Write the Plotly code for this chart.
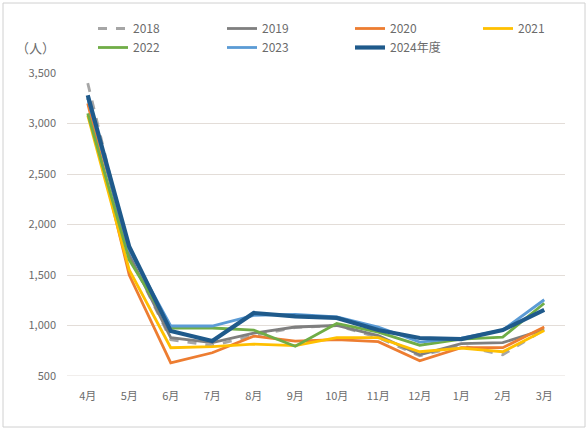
import plotly.graph_objects as go

months = ["4月", "5月", "6月", "7月", "8月", "9月", "10月", "11月", "12月", "1月", "2月", "3月"]

y2018 = [3400, 1700, 860, 800, 900, 980, 1000, 880, 700, 800, 710, 960]
y2019 = [3250, 1700, 880, 830, 925, 985, 1000, 900, 710, 820, 830, 960]
y2020 = [3200, 1500, 630, 730, 895, 845, 860, 840, 650, 780, 780, 985]
y2021 = [3080, 1550, 780, 790, 815, 800, 880, 880, 740, 775, 740, 950]
y2022 = [3100, 1650, 975, 975, 955, 795, 1020, 935, 805, 865, 885, 1220]
y2023 = [3250, 1750, 995, 995, 1100, 1110, 1085, 985, 835, 875, 955, 1255]
y2024 = [3280, 1780, 945, 846, 1124, 1090, 1075, 955, 876, 866, 955, 1155]

y_ticks = [500, 1000, 1500, 2000, 2500, 3000, 3500]
y_tick_labels = ["500", "1,000", "1,500", "2,000", "2,500", "3,000", "3,500"]

# name, values, colour, width, dash, legend column
series = [
    ("2018", y2018, "#A6A6A6", 2.8, "dash", "legend"),
    ("2019", y2019, "#7F7F7F", 2.8, "solid", "legend2"),
    ("2020", y2020, "#ED7D31", 2.8, "solid", "legend3"),
    ("2021", y2021, "#FFC000", 2.8, "solid", "legend4"),
    ("2022", y2022, "#70AD47", 2.8, "solid", "legend"),
    ("2023", y2023, "#5B9BD5", 2.8, "solid", "legend2"),
    ("2024年度", y2024, "#1F5A8B", 4.2, "solid", "legend3"),
]

font_family = "Noto Sans CJK JP"
text_color = "#6b6b6b"

fig = go.Figure()
for name, ys, color, width, dash, lg in series:
    fig.add_trace(go.Scatter(
        x=months, y=ys, name=name, mode="lines",
        line=dict(color=color, width=width, dash=dash),
        legend=lg,
    ))

def legend_col(xpix):
    return dict(
        orientation="v",
        xref="container", yref="container",
        x=xpix / 588, y=1 - 14 / 430, xanchor="left", yanchor="top",
        font=dict(size=12, color=text_color),
        tracegroupgap=0, itemwidth=30,
        bgcolor="rgba(0,0,0,0)",
    )

fig.update_layout(
    width=588, height=430,
    margin=dict(l=67, r=23, t=73, b=54, autoexpand=False),
    paper_bgcolor="white", plot_bgcolor="white",
    font=dict(family=font_family, size=11, color=text_color),
    showlegend=True,
    legend=legend_col(93),
    legend2=legend_col(222),
    legend3=legend_col(350),
    legend4=legend_col(478),
    xaxis=dict(
        type="category", range=[-0.5, 11.5],
        showgrid=False, showline=False, ticks="",
        tickfont=dict(size=11, color=text_color),
        ticklabelstandoff=12,
    ),
    yaxis=dict(
        range=[500, 3500], tickvals=y_ticks, ticktext=y_tick_labels,
        showgrid=True, gridcolor="#E3DDD8", gridwidth=1,
        zeroline=False, showline=False, ticks="",
        tickfont=dict(size=11, color=text_color),
        ticklabelstandoff=10,
    ),
    annotations=[dict(
        text="（人）", xref="paper", yref="paper",
        x=-0.02, y=1.0, xanchor="right", yanchor="bottom", yshift=14,
        showarrow=False, font=dict(size=13, color=text_color),
    )],
    shapes=[
        dict(type="line", xref="paper", yref="y", x0=0, x1=1, y0=500, y1=500,
             line=dict(color="#E3DDD8", width=1)),
        dict(type="rect", xref="paper", yref="paper",
             x0=-64 / 498, x1=1 + 20 / 498, y0=-51 / 303, y1=1 + 70 / 303,
             line=dict(color="#D0D0D0", width=1)),
    ],
)

fig.write_html(
    "out.html",
    config={"displayModeBar": False},
    post_script="document.body.style.margin='0';document.body.style.overflow='hidden';",
)
